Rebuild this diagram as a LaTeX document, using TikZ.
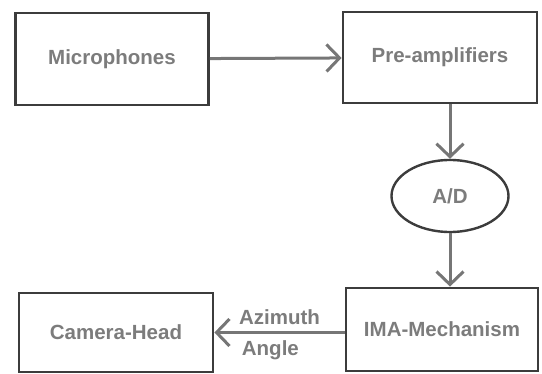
\documentclass[tikz,border=0pt]{standalone}
\usepackage{fontspec}
\setmainfont{Liberation Sans}
\usetikzlibrary{arrows.meta,shapes.geometric}
\definecolor{boxline}{HTML}{3C3C3C}
\definecolor{arrowline}{HTML}{767676}
\definecolor{labeltext}{HTML}{7C7C7C}

\begin{document}
\begin{tikzpicture}[x=1pt,y=-1pt,
    labelfont/.style={text=labeltext,font=\fontsize{20.5}{24}\selectfont\bfseries},
    block/.style={draw=boxline,line width=2.8pt,labelfont},
    conv/.style={ellipse,draw=boxline,line width=2.4pt,labelfont,
      minimum width=117pt,minimum height=72pt,inner sep=0pt},
    flow/.style={draw=arrowline,line width=3pt,
      -{Straight Barb[length=13pt,width=27pt,line width=3pt]}}]
  \useasboundingbox (0,0) rectangle (542,374);
  % blocks
  \node[block,minimum width=193pt,minimum height=92pt] (mic) at (112,59) {Microphones};
  \node[block,minimum width=194pt,minimum height=91pt] (pre) at (440,57.5) {Pre-amplifiers};
  \node[conv] (ad) at (450,196) {A/D};
  \node[block,minimum width=192pt,minimum height=83pt] (ima) at (442,329.5) {IMA-Mechanism};
  \node[block,minimum width=194pt,minimum height=79pt] (cam) at (116,332.5) {Camera-Head};
  % connectors
  \draw[flow] (mic) -- (pre);
  \draw[flow] (ad.north |- pre.south) -- (ad.north);
  \draw[flow] (ad.south) -- (ad.south |- ima.north);
  \draw[flow] (ima.west |- cam.east) -- (cam.east)
    node[labelfont,midway,above=3pt] (az) {Azimuth}
    node[labelfont,pos=0.57,below=3pt] (ang) {Angle};
\end{tikzpicture}
\end{document}
